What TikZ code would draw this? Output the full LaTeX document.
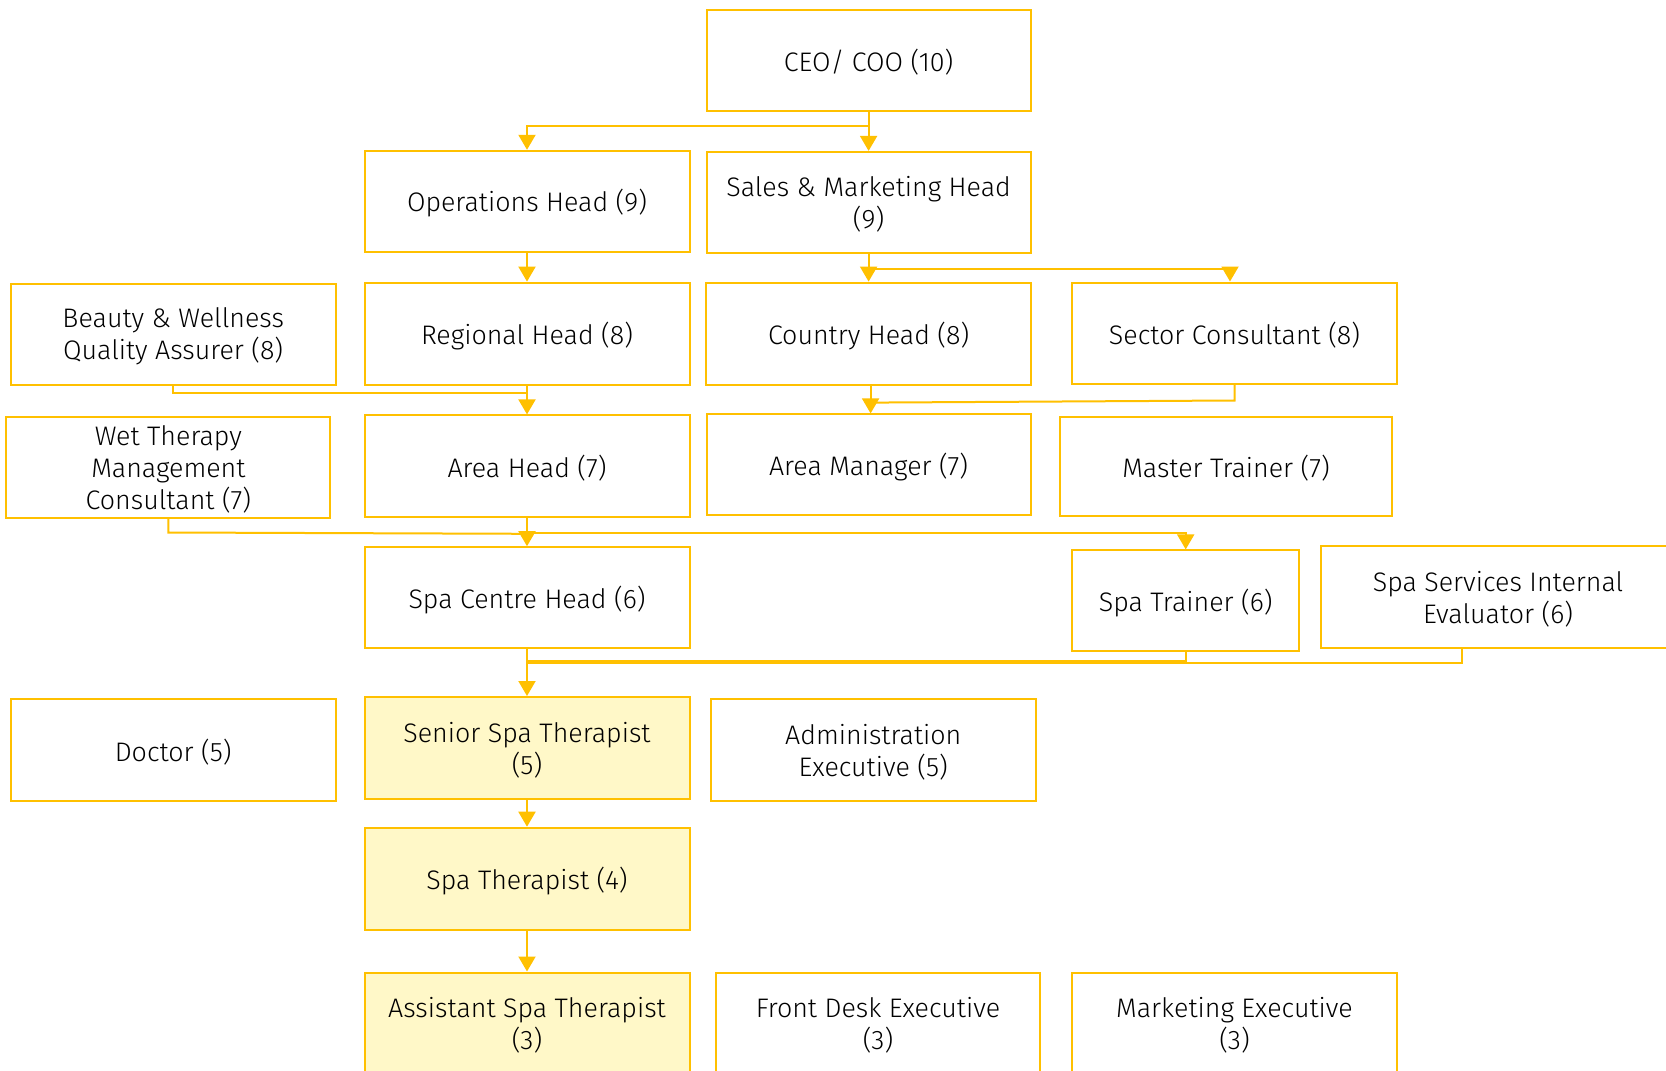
\documentclass[tikz,border=0pt]{standalone}
\usepackage{fontspec}
\setmainfont{Fira Sans Light}
\usetikzlibrary{arrows.meta,calc}
\definecolor{eyy}{HTML}{FFC000}
\definecolor{eyfill}{HTML}{FFF8C8}
\definecolor{txt}{HTML}{000000}
\tikzset{
  box/.style={draw=eyy, line width=2pt, rectangle, inner sep=0pt},
  fbox/.style={box, fill=eyfill},
  lbl/.style={align=center, text=txt, inner sep=0pt, yshift=-2.2pt,
    font=\fontsize{26.8}{31.8}\selectfont},
  ln/.style={draw=eyy, line width=2pt},
  arr/.style={ln, -{Triangle[length=15pt,width=17pt]}},
}
\begin{document}
\begin{tikzpicture}[x=1pt,y=-1pt]
\useasboundingbox (0,0) rectangle (1666,1071);
\clip (0,0) rectangle (1666,1071);
\fill[white] (0,0) rectangle (1666,1071);
% row 1
\node[box, minimum width=324pt, minimum height=101pt, label={[lbl]center:{CEO/ COO (10)}}] (ceo) at (868.6,60) {};
% row 2
\node[box, minimum width=325pt, minimum height=101pt, label={[lbl]center:{Operations Head (9)}}] (ops) at (527,201.3) {};
\node[box, minimum width=324pt, minimum height=101pt, label={[lbl]center:{Sales \& Marketing Head\\(9)}}] (sales) at (868.6,202.4) {};
% row 3
\node[box, minimum width=325pt, minimum height=101pt, label={[lbl]center:{Beauty \& Wellness\\Quality Assurer (8)}}] (beauty) at (173.2,334.2) {};
\node[box, minimum width=325pt, minimum height=102pt, label={[lbl]center:{Regional Head (8)}}] (regional) at (527,333.6) {};
\node[box, minimum width=325pt, minimum height=102pt, label={[lbl]center:{Country Head (8)}}] (country) at (868.6,333.6) {};
\node[box, minimum width=325pt, minimum height=101pt, label={[lbl]center:{Sector Consultant (8)}}] (sector) at (1234.5,333) {};
% row 4
\node[box, minimum width=324pt, minimum height=101pt, label={[lbl]center:{Wet Therapy\\Management\\Consultant (7)}}] (wet) at (168.4,467) {};
\node[box, minimum width=325pt, minimum height=102pt, label={[lbl]center:{Area Head (7)}}] (areahead) at (527,466.4) {};
\node[box, minimum width=324pt, minimum height=101pt, label={[lbl]center:{Area Manager (7)}}] (areamgr) at (868.6,464.9) {};
\node[box, minimum width=331.5pt, minimum height=99pt, label={[lbl]center:{Master Trainer (7)}}] (master) at (1226,466) {};
% row 5
\node[box, minimum width=325pt, minimum height=101pt, label={[lbl]center:{Spa Centre Head (6)}}] (spacentre) at (527,597.7) {};
\node[box, minimum width=227.4pt, minimum height=101pt, label={[lbl]center:{Spa Trainer (6)}}] (spatrainer) at (1185.7,600.9) {};
\node[box, minimum width=355pt, minimum height=102pt, label={[lbl]center:{Spa Services Internal\\Evaluator (6)}}] (evaluator) at (1498,597) {};
% row 6
\node[box, minimum width=325pt, minimum height=102pt, label={[lbl]center:{Doctor (5)}}] (doctor) at (173.2,750) {};
\node[fbox, minimum width=325pt, minimum height=102pt, label={[lbl]center:{Senior Spa Therapist\\(5)}}] (senior) at (527,748) {};
\node[box, minimum width=325pt, minimum height=102pt, label={[lbl]center:{Administration\\Executive (5)}}] (admin) at (873.3,750) {};
% row 7
\node[fbox, minimum width=325pt, minimum height=102pt, label={[lbl]center:{Spa Therapist (4)}}] (spather) at (527,878.7) {};
% row 8
\node[fbox, minimum width=325pt, minimum height=101pt, label={[lbl]center:{Assistant Spa Therapist\\(3)}}] (assistant) at (527,1023) {};
\node[box, minimum width=324pt, minimum height=101pt, label={[lbl]center:{Front Desk Executive\\(3)}}] (frontdesk) at (878,1023) {};
\node[box, minimum width=325pt, minimum height=101pt, label={[lbl]center:{Marketing Executive\\(3)}}] (marketing) at (1234.5,1023) {};
% connectors
\coordinate (j1) at ($(ceo.south)+(0,14)$);
\draw[arr] (ceo.south) -- (j1) -| (ops.north);
\draw[arr] (j1) -- (sales.north);
\draw[arr] (ops.south) -- (regional.north);
\coordinate (j2) at ($(sales.south)+(0,15)$);
\coordinate (j2b) at ($(sector.north)+(-4.5,-12.6)$);
\draw[arr] (sales.south) -- (country.north);
\draw[arr] (j2) -- (j2b) -- (j2b |- sector.north);
\draw[ln] (beauty.south) |- (regional.south |- 0,393);
\draw[arr] (regional.south) -- (areahead.north);
\coordinate (j3) at ($(sector.south)+(0,16)$);
\draw[ln] (sector.south) -- (j3) -- ($(country.south)+(2,17)$);
\draw[arr] ($(country.south)+(2,0)$) -- ($(areamgr.north)+(2,0)$);
\draw[ln] (wet.south) -- ++(0,14) -- (areahead.south |- 0,533.8);
\draw[arr] (areahead.south) -- (spacentre.north);
\draw[arr] (areahead.south |- 0,532.8) -| (spatrainer.north);
\draw[arr] (spacentre.south) -- (senior.north);
\draw[ln] (spatrainer.south) |- (spacentre.south |- 0,661);
\coordinate (ev) at ($(evaluator.south west)!0.4!(evaluator.south east)$);
\draw[ln] (ev) |- (spacentre.south |- 0,663);
\draw[arr] (senior.south) -- (spather.north);
\draw[arr] (spather.south) -- (assistant.north);
\end{tikzpicture}
\end{document}
